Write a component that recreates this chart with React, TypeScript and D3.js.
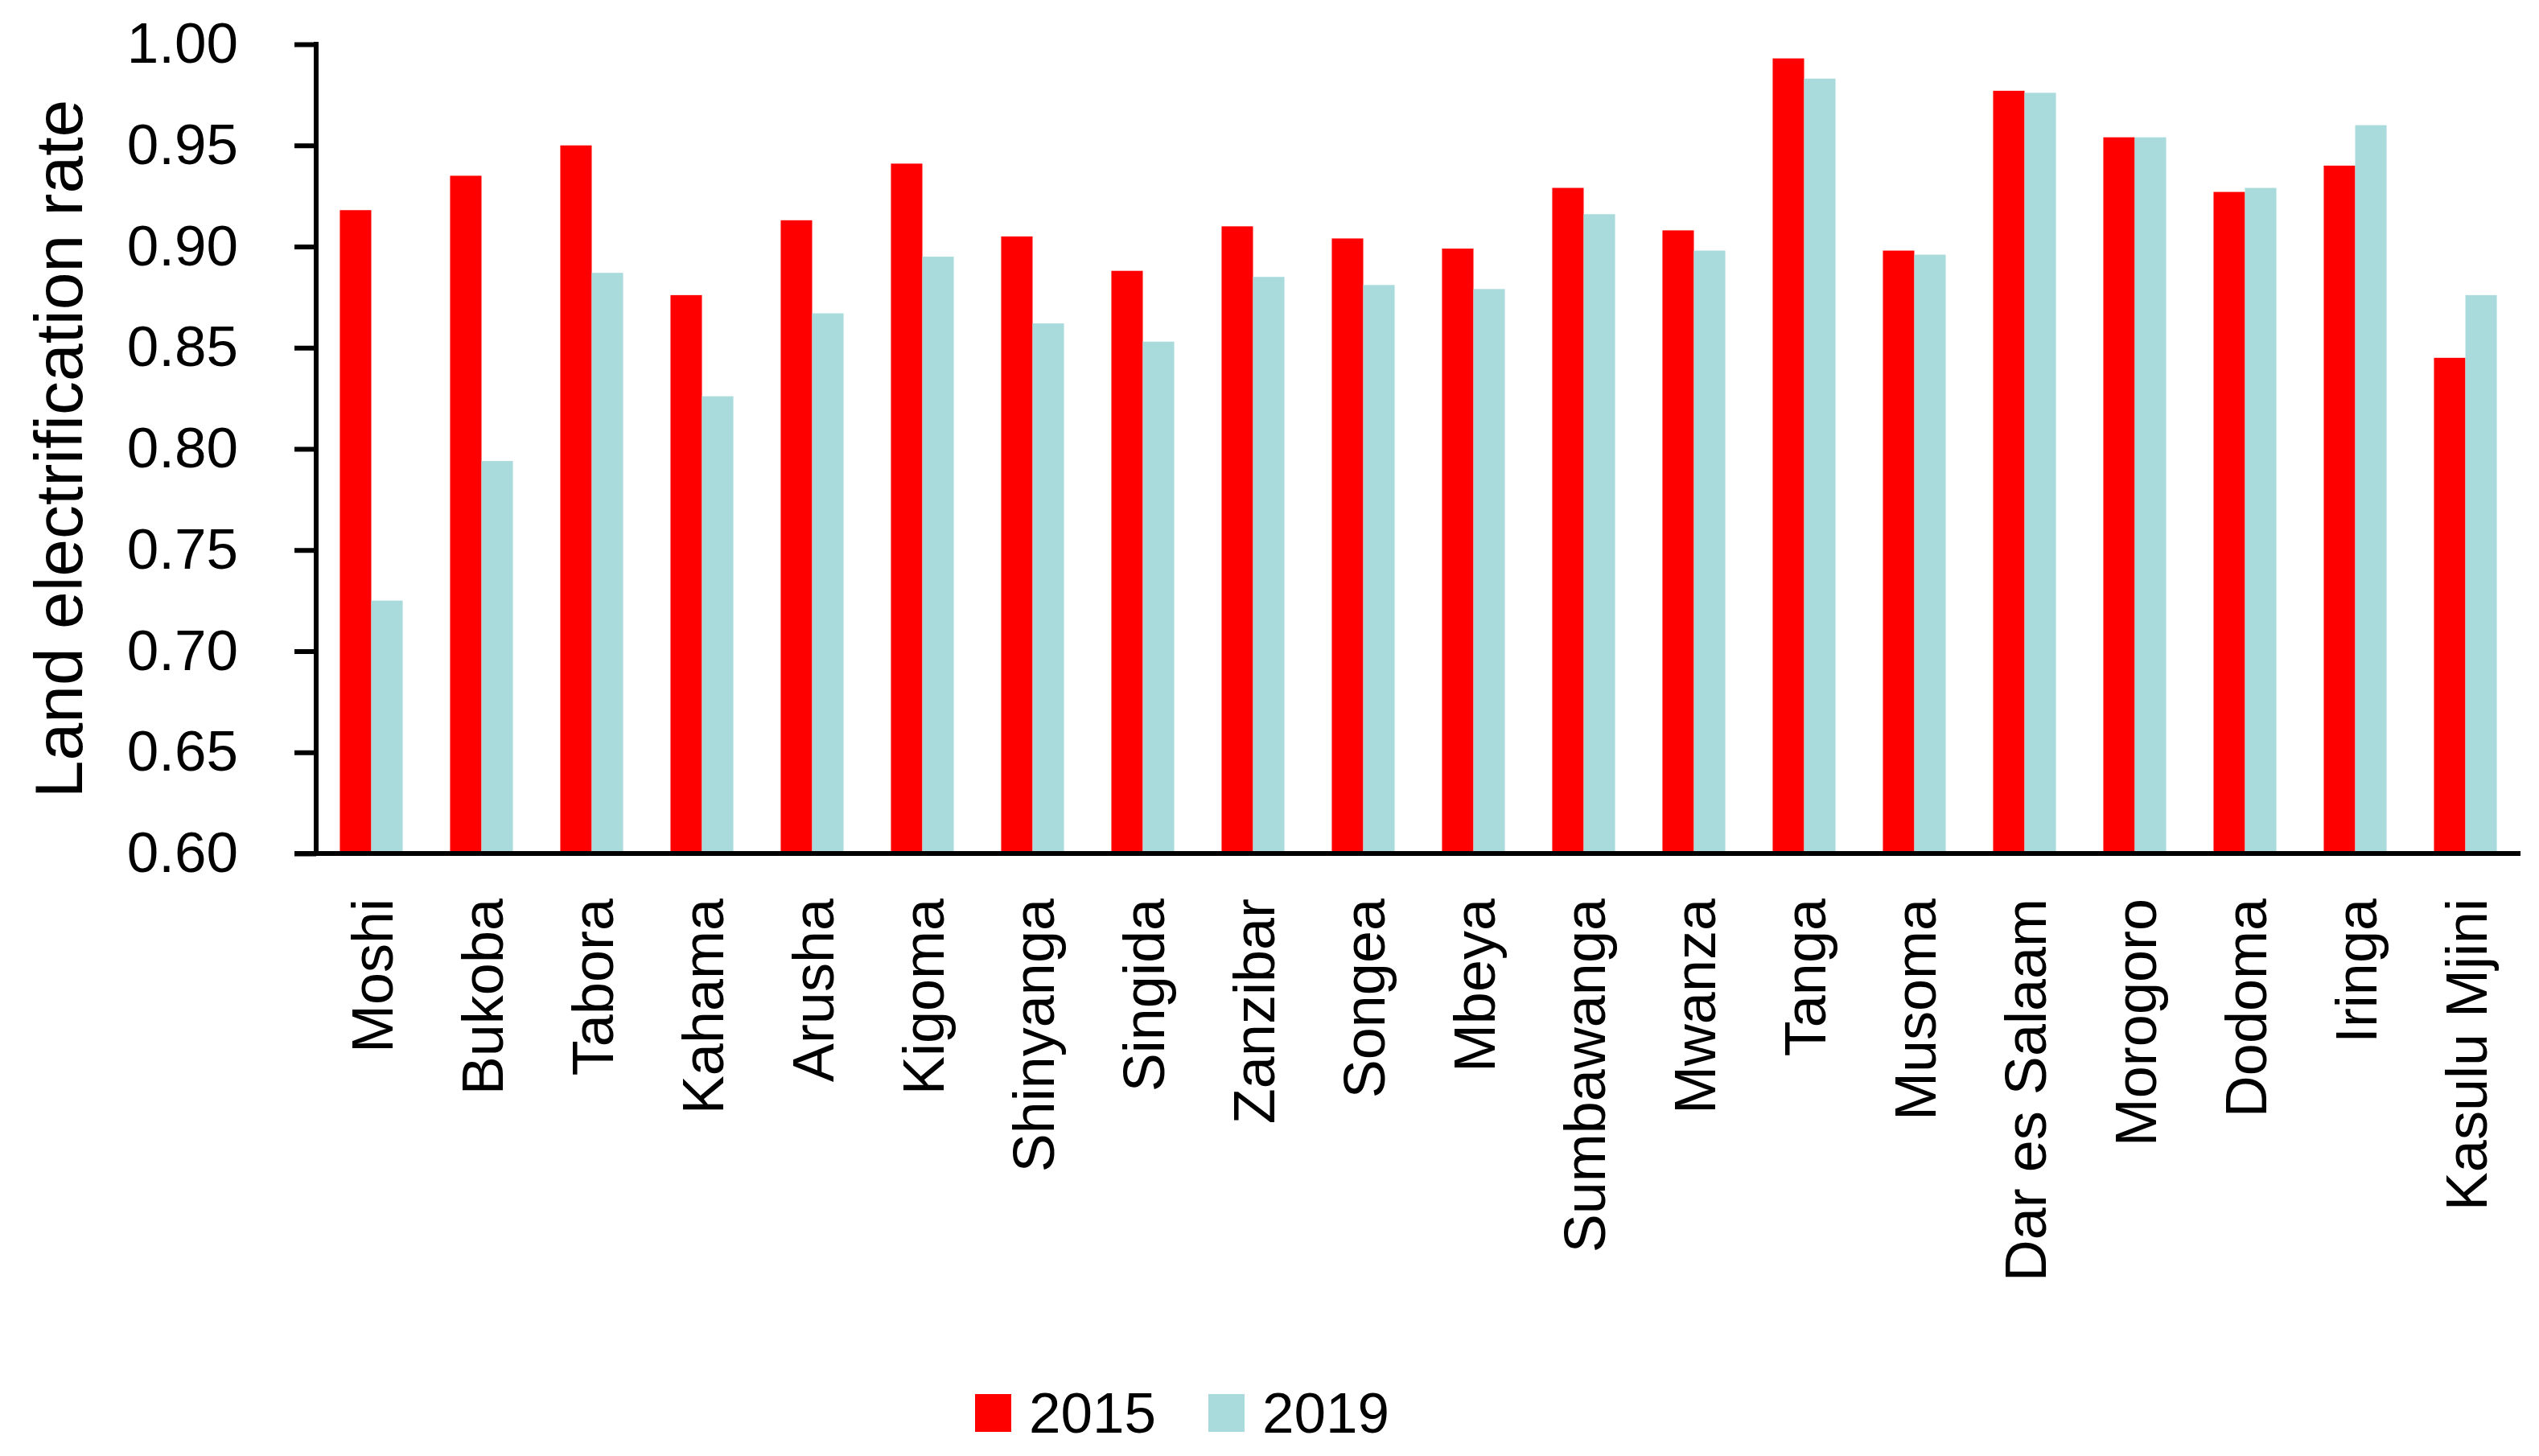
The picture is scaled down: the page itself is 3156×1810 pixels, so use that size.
import React, { useRef, useEffect } from "react";
import * as d3 from "d3";

// cities along the x axis, left to right
const cities = [
  "Moshi", "Bukoba", "Tabora", "Kahama", "Arusha", "Kigoma", "Shinyanga",
  "Singida", "Zanzibar", "Songea", "Mbeya", "Sumbawanga", "Mwanza", "Tanga",
  "Musoma", "Dar es Salaam", "Morogoro", "Dodoma", "Iringa", "Kasulu Mjini",
];

const years = ["2015", "2019"];

// land electrification rate
const rate2015 = [
  0.918, 0.935, 0.950, 0.876, 0.913, 0.941, 0.905, 0.888, 0.910, 0.904,
  0.899, 0.929, 0.908, 0.993, 0.898, 0.977, 0.954, 0.927, 0.940, 0.845,
];
const rate2019 = [
  0.725, 0.794, 0.887, 0.826, 0.867, 0.895, 0.862, 0.853, 0.885, 0.881,
  0.879, 0.916, 0.898, 0.983, 0.896, 0.976, 0.954, 0.929, 0.960, 0.876,
];

const yTicks = [0.6, 0.65, 0.7, 0.75, 0.8, 0.85, 0.9, 0.95, 1.0];

const colors = { "2015": "#FF0000", "2019": "#AADBDC" };

const W = 3156;
const H = 1810;
const FONT = "'Liberation Sans', Arial, sans-serif";

function App() {
  const svgRef = useRef<SVGSVGElement | null>(null);

  useEffect(() => {
    const svg = d3.select(svgRef.current);
    svg.selectAll("*").remove();

    const left = 393, right = 3133, top = 55, bottom = 1061;

    const x0 = d3.scaleBand<string>()
      .domain(cities)
      .range([left, right])
      .paddingInner(0.43)
      .paddingOuter(0.215);

    const x1 = d3.scaleBand<string>()
      .domain(years)
      .range([0, x0.bandwidth()]);

    const y = d3.scaleLinear().domain([0.6, 1.0]).range([bottom, top]);

    const rows = cities.map((c, i) => ({ city: c, "2015": rate2015[i], "2019": rate2019[i] }));

    // bars
    const groups = svg.append("g")
      .selectAll("g")
      .data(rows)
      .join("g")
      .attr("transform", d => `translate(${x0(d.city)},0)`);

    groups.selectAll("rect")
      .data(d => years.map(yr => ({ year: yr, value: d[yr] as number })))
      .join("rect")
      .attr("x", d => x1(d.year)!)
      .attr("y", d => y(d.value))
      .attr("width", x1.bandwidth())
      .attr("height", d => bottom - y(d.value))
      .attr("fill", d => colors[d.year]);

    // y axis
    const yAxis = d3.axisLeft(y)
      .tickValues(yTicks)
      .tickFormat(d3.format(".2f"))
      .tickSize(27)
      .tickSizeOuter(0)
      .tickPadding(70);

    const yg = svg.append("g")
      .attr("transform", `translate(${left},0)`)
      .call(yAxis);
    yg.select(".domain").remove();
    yg.selectAll(".tick line").attr("stroke", "#000").attr("stroke-width", 6);
    yg.selectAll(".tick text")
      .attr("font-family", FONT)
      .attr("font-size", 71)
      .attr("fill", "#000");

    svg.append("line")
      .attr("x1", left).attr("x2", left)
      .attr("y1", top - 3).attr("y2", bottom)
      .attr("stroke", "#000").attr("stroke-width", 6);

    // x axis line
    svg.append("line")
      .attr("x1", left - 27).attr("x2", right)
      .attr("y1", bottom).attr("y2", bottom)
      .attr("stroke", "#000").attr("stroke-width", 6);

    // x labels, rotated
    svg.append("g")
      .selectAll("text")
      .data(cities)
      .join("text")
      .attr("transform", d => `translate(${x0(d)! + x0.bandwidth() / 2},1117) rotate(-90)`)
      .attr("text-anchor", "end")
      .attr("dy", "0.37em")
      .attr("font-family", FONT)
      .attr("font-size", 72)
      .attr("fill", "#000")
      .text(d => d);

    // y title
    svg.append("text")
      .attr("transform", `translate(102,${(top + bottom) / 2}) rotate(-90)`)
      .attr("text-anchor", "middle")
      .attr("font-family", FONT)
      .attr("font-size", 84)
      .attr("fill", "#000")
      .text("Land electrification rate");

    // legend
    const legendX = [1212, 1502];
    const legend = svg.append("g")
      .selectAll("g")
      .data(years)
      .join("g")
      .attr("transform", (d, i) => `translate(${legendX[i]},1733)`);
    legend.append("rect")
      .attr("width", 45).attr("height", 47)
      .attr("fill", d => colors[d]);
    legend.append("text")
      .attr("x", 67).attr("y", 48)
      .attr("font-family", FONT)
      .attr("font-size", 71)
      .attr("fill", "#000")
      .text(d => d);
  }, []);

  return (
    <svg
      ref={svgRef}
      width={W}
      height={H}
      style={{ position: "absolute", left: 0, top: 0, background: "#fff" }}
    />
  );
}

export default App;
